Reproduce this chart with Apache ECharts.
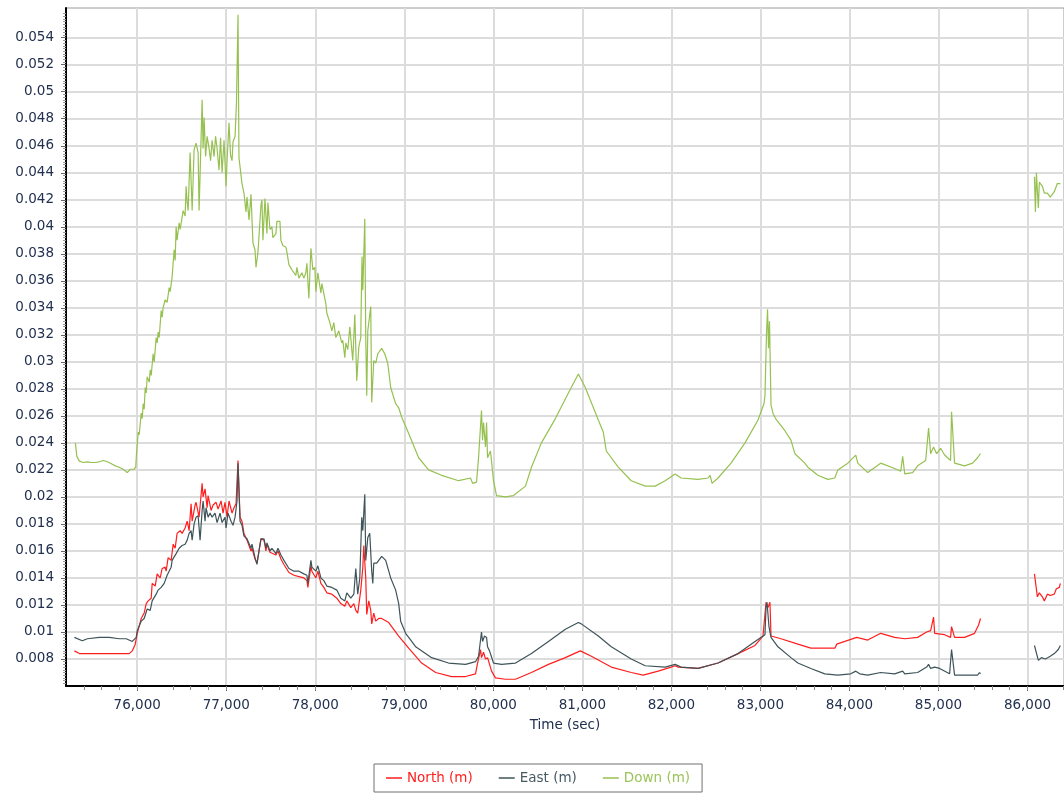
<!DOCTYPE html>
<html>
<head>
<meta charset="utf-8">
<script src="https://cdn.jsdelivr.net/npm/echarts@6/dist/echarts.min.js"></script>
<style>
  html, body { margin: 0; padding: 0; background: #fff; }
  #chart { width: 1064px; height: 794px; }
</style>
</head>
<body>
<div id="chart"></div>
<script>
// tick labels
const xTicks = [76000, 77000, 78000, 79000, 80000, 81000, 82000, 83000, 84000, 85000, 86000];
const yTicks = [0.008, 0.01, 0.012, 0.014, 0.016, 0.018, 0.02, 0.022, 0.024, 0.026, 0.028, 0.03,
  0.032, 0.034, 0.036, 0.038, 0.04, 0.042, 0.044, 0.046, 0.048, 0.05, 0.052, 0.054];

// Down (m)
const downTime = [75305, 75322, 75350, 75395, 75440, 75485, 75529, 75574, 75619, 75664, 75709, 75753,
  75798, 75843, 75888, 75922, 75966, 75983, 75992, 76011, 76022, 76045, 76056, 76067, 76078, 76090,
  76101, 76112, 76135, 76146, 76157, 76179, 76191, 76213, 76224, 76235, 76247, 76269, 76280, 76291,
  76314, 76336, 76359, 76370, 76392, 76415, 76426, 76437, 76448, 76471, 76482, 76504, 76516, 76538,
  76549, 76561, 76572, 76594, 76617, 76639, 76661, 76684, 76695, 76729, 76740, 76751, 76768, 76785,
  76807, 76824, 76841, 76863, 76880, 76897, 76919, 76936, 76953, 76975, 76998, 77009, 77031, 77048,
  77065, 77076, 77099, 77115, 77132, 77143, 77177, 77199, 77222, 77233, 77256, 77278, 77289, 77300,
  77323, 77334, 77356, 77390, 77401, 77412, 77435, 77457, 77468, 77491, 77513, 77524, 77558, 77569,
  77603, 77614, 77637, 77670, 77682, 77704, 77738, 77760, 77782, 77794, 77816, 77850, 77872, 77894,
  77906, 77928, 77951, 77973, 77995, 78007, 78029, 78063, 78074, 78119, 78130, 78164, 78186, 78208,
  78231, 78264, 78298, 78309, 78332, 78343, 78365, 78388, 78410, 78421, 78444, 78466, 78489, 78511,
  78518, 78525, 78534, 78556, 78567, 78578, 78590, 78623, 78634, 78657, 78679, 78702, 78746, 78780,
  78814, 78847, 78903, 78937, 78971, 79049, 79161, 79273, 79419, 79610, 79744, 79767, 79811, 79834,
  79867, 79879, 79890, 79912, 79924, 79935, 79968, 80002, 80036, 80136, 80226, 80361, 80428, 80540,
  80697, 80843, 80955, 81033, 81179, 81235, 81269, 81403, 81549, 81706, 81818, 81930, 82042, 82109,
  82300, 82412, 82435, 82457, 82524, 82670, 82827, 82973, 83040, 83051, 83068, 83080, 83091, 83102,
  83113, 83119, 83141, 83170, 83275, 83343, 83387, 83499, 83533, 83645, 83757, 83836, 83869, 83982,
  84071, 84094, 84116, 84206, 84351, 84508, 84576, 84598, 84621, 84710, 84766, 84856, 84889, 84912,
  84945, 84979, 85024, 85069, 85136, 85147, 85181, 85293, 85383, 85439, 85472,
  85800,
  86078, 86089, 86100, 86122, 86133, 86167, 86189, 86223, 86256, 86301, 86335, 86369];
const downVals = [0.0240, 0.0230, 0.02265, 0.02255, 0.0226, 0.02255, 0.02255, 0.0226, 0.0227, 0.0226, 0.02245, 0.0223,
  0.0222, 0.02205, 0.0218, 0.02205, 0.02205, 0.0222, 0.0232, 0.0248, 0.0246, 0.0262, 0.0258, 0.0269, 0.0265, 0.0281,
  0.0277, 0.0289, 0.0285, 0.0294, 0.0290, 0.0306, 0.0300, 0.0318, 0.0314, 0.0322, 0.0318, 0.0338, 0.0333, 0.0340,
  0.0346, 0.0344, 0.0355, 0.0352, 0.0363, 0.0383, 0.0375, 0.0400, 0.0390, 0.0403, 0.0398, 0.0407, 0.0412, 0.0408,
  0.0430, 0.0418, 0.0412, 0.0455, 0.0412, 0.0457, 0.0462, 0.0455, 0.0412, 0.0494, 0.0458, 0.0481, 0.0452, 0.0467,
  0.0458, 0.0449, 0.0464, 0.0452, 0.0467, 0.0458, 0.0442, 0.0466, 0.0440, 0.0464, 0.0430, 0.0449, 0.0477, 0.0453,
  0.0449, 0.0463, 0.0467, 0.0492, 0.0557, 0.0451, 0.0432, 0.0425, 0.0411, 0.0422, 0.0405, 0.0424, 0.0425, 0.0388,
  0.0383, 0.0370, 0.0381, 0.0416, 0.0420, 0.0390, 0.0421, 0.0395, 0.0418, 0.0398, 0.0400, 0.0392, 0.0395, 0.0404,
  0.0404, 0.0390, 0.0386, 0.0385, 0.0381, 0.0372, 0.0368, 0.0369, 0.0364, 0.0370, 0.0362, 0.0366, 0.0362, 0.0366,
  0.0373, 0.0347, 0.0384, 0.0368, 0.0370, 0.0352, 0.0366, 0.0351, 0.0358, 0.0343, 0.0336, 0.0329, 0.0323, 0.0329,
  0.0318, 0.0323, 0.0314, 0.0316, 0.0303, 0.0314, 0.0309, 0.0326, 0.0309, 0.0301, 0.0335, 0.0286, 0.0311, 0.0318,
  0.0351, 0.0378, 0.0353, 0.0406, 0.0318, 0.0275, 0.0323, 0.0341, 0.0270, 0.0301, 0.0299, 0.0306, 0.0310, 0.0306,
  0.0299, 0.0281, 0.0269, 0.0266, 0.0259, 0.0247, 0.0229, 0.0220, 0.0216, 0.0212, 0.0214, 0.0210, 0.0211, 0.0229,
  0.0264, 0.0242, 0.0255, 0.0237, 0.0255, 0.0229, 0.0234, 0.0212, 0.0201, 0.0200, 0.0201, 0.0208, 0.0222, 0.0240,
  0.0258, 0.0277, 0.0291, 0.0281, 0.0257, 0.0248, 0.0234, 0.0222, 0.0212, 0.0208, 0.0208, 0.0212, 0.0217, 0.0214,
  0.0213, 0.0214, 0.0216, 0.0210, 0.0214, 0.0225, 0.0240, 0.0257, 0.0269, 0.0275, 0.0320, 0.0339, 0.0310, 0.0330,
  0.0290, 0.0268, 0.0262, 0.0258, 0.0249, 0.0242, 0.0232, 0.0225, 0.0222, 0.0216, 0.0213, 0.0214, 0.0220, 0.0225,
  0.0231, 0.0225, 0.0226, 0.0218, 0.0225, 0.0221, 0.0219, 0.0230, 0.0217, 0.0218, 0.0223, 0.0227, 0.0251, 0.0232,
  0.0237, 0.0232, 0.0236, 0.0231, 0.0227, 0.0263, 0.0225, 0.0223, 0.0225, 0.0229, 0.0232,
  null,
  0.0437, 0.0411, 0.0440, 0.0414, 0.0433, 0.0430, 0.0425, 0.0425, 0.0422, 0.0426, 0.0432, 0.0432];

// North (m)
const northTime = [75294, 75305, 75350, 75440, 75574, 75709, 75843, 75910, 75944, 75978, 76000, 76045,
  76078, 76101, 76123, 76157, 76168, 76202, 76224, 76258, 76280, 76314, 76325, 76347, 76381, 76404,
  76426, 76448, 76482, 76504, 76538, 76561, 76583, 76605, 76617, 76650, 76661, 76695, 76729, 76740,
  76762, 76785, 76796, 76830, 76852, 76886, 76908, 76942, 76964, 76986, 77009, 77031, 77065, 77087,
  77110, 77121, 77132, 77155, 77177, 77199, 77233, 77278, 77289, 77323, 77345, 77368, 77390, 77424,
  77446, 77457, 77491, 77513, 77558, 77581, 77614, 77648, 77704, 77760, 77816, 77872, 77906, 77917,
  77951, 77962, 78007, 78029, 78063, 78096, 78130, 78186, 78242, 78287, 78332, 78354, 78399, 78433,
  78455, 78477, 78511, 78534, 78545, 78567, 78578, 78601, 78623, 78634, 78657, 78679, 78713, 78746,
  78825, 78937, 79049, 79195, 79352, 79531, 79688, 79800, 79823, 79856, 79867, 79890, 79912, 79935,
  79980, 80024, 80136, 80249, 80428, 80619, 80809, 80977, 81101, 81325, 81549, 81683, 81852, 81997,
  82042, 82076, 82300, 82524, 82749, 82939, 83029, 83063, 83085, 83107, 83119, 83231, 83421, 83567,
  83836, 83858, 83948, 84082, 84206, 84351, 84508, 84621, 84766, 84867, 84889, 84912, 84945, 84957,
  85069, 85136, 85147, 85181, 85293, 85405, 85450, 85472,
  85800,
  86078, 86111, 86133, 86167, 86189, 86223, 86256, 86301, 86324, 86358, 86369];
const northVals = [0.0086, 0.0085, 0.0084, 0.0084, 0.0084, 0.0084, 0.0084, 0.0084, 0.0086, 0.0091, 0.0099, 0.0110,
  0.0114, 0.0121, 0.0123, 0.0125, 0.0136, 0.0134, 0.0143, 0.0140, 0.0147, 0.0148, 0.0145, 0.0155, 0.0153, 0.0165,
  0.0162, 0.0173, 0.0175, 0.0173, 0.0177, 0.0182, 0.0175, 0.0195, 0.0182, 0.0194, 0.0196, 0.0185, 0.0210, 0.0200,
  0.0206, 0.0192, 0.0201, 0.0190, 0.0194, 0.0196, 0.0191, 0.0197, 0.0188, 0.0196, 0.0185, 0.0197, 0.0188, 0.0192,
  0.0195, 0.0211, 0.0227, 0.0185, 0.0182, 0.0173, 0.0168, 0.0160, 0.0162, 0.0154, 0.0151, 0.0160, 0.0169, 0.0168,
  0.0160, 0.0165, 0.0159, 0.0160, 0.0157, 0.0160, 0.0154, 0.0150, 0.0144, 0.0142, 0.0141, 0.0140, 0.0138, 0.0133,
  0.0149, 0.0145, 0.0140, 0.0145, 0.0136, 0.0133, 0.0129, 0.0128, 0.0125, 0.0121, 0.0119, 0.0123, 0.0118, 0.0121,
  0.0116, 0.0114, 0.0131, 0.0148, 0.0164, 0.0140, 0.0113, 0.0123, 0.0116, 0.0106, 0.0114, 0.0108, 0.0110, 0.0110,
  0.0107, 0.0097, 0.0088, 0.0077, 0.0070, 0.0067, 0.0067, 0.0069, 0.0077, 0.0087, 0.0081, 0.0085, 0.0080, 0.0081,
  0.0071, 0.0066, 0.0065, 0.0065, 0.0070, 0.0076, 0.0081, 0.0086, 0.0082, 0.0074, 0.0070, 0.0068, 0.0071, 0.0074,
  0.0075, 0.0074, 0.0073, 0.0077, 0.0084, 0.0090, 0.0097, 0.0122, 0.0118, 0.0122, 0.0097, 0.0095, 0.0091, 0.0088,
  0.0088, 0.0091, 0.0093, 0.0096, 0.0094, 0.0099, 0.0096, 0.0095, 0.0096, 0.0100, 0.0099, 0.0101, 0.0111, 0.0099,
  0.0098, 0.0096, 0.0104, 0.0096, 0.0096, 0.0099, 0.0105, 0.0110,
  null,
  0.0143, 0.0126, 0.0129, 0.0126, 0.0123, 0.0128, 0.0127, 0.0128, 0.0132, 0.0133, 0.0136];

// East (m)
const eastTime = [75294, 75383, 75440, 75574, 75686, 75798, 75877, 75944, 75989, 76000, 76045, 76078,
  76112, 76146, 76168, 76213, 76235, 76269, 76303, 76336, 76381, 76392, 76437, 76471, 76504, 76538,
  76561, 76583, 76605, 76617, 76639, 76661, 76684, 76706, 76729, 76740, 76762, 76773, 76796, 76818,
  76841, 76874, 76897, 76930, 76953, 76986, 76998, 77020, 77054, 77076, 77099, 77121, 77132, 77155,
  77177, 77199, 77233, 77278, 77289, 77323, 77345, 77368, 77390, 77424, 77446, 77457, 77491, 77513,
  77558, 77581, 77614, 77648, 77704, 77760, 77816, 77872, 77906, 77917, 77951, 77962, 78007, 78029,
  78063, 78096, 78130, 78186, 78242, 78287, 78332, 78354, 78399, 78433, 78455, 78477, 78500, 78522,
  78534, 78556, 78567, 78590, 78612, 78634, 78646, 78657, 78690, 78746, 78791, 78847, 78903, 78937,
  78959, 79015, 79083, 79128, 79307, 79497, 79688, 79800, 79834, 79867, 79879, 79901, 79924, 79935,
  79957, 80002, 80092, 80249, 80428, 80619, 80809, 80955, 80988, 81179, 81325, 81549, 81706, 81930,
  82042, 82109, 82300, 82524, 82749, 82939, 83051, 83063, 83074, 83096, 83119, 83197, 83343, 83421,
  83567, 83723, 83869, 84015, 84071, 84116, 84206, 84351, 84508, 84598, 84621, 84766, 84867, 84889,
  84912, 84957, 85013, 85125, 85147, 85181, 85293, 85439, 85461, 85472,
  85800,
  86078, 86122, 86156, 86200, 86256, 86301, 86346, 86369];
const eastVals = [0.0096, 0.00935, 0.0095, 0.0096, 0.0096, 0.0095, 0.0095, 0.0093, 0.0096, 0.0101, 0.0108, 0.0110,
  0.0117, 0.0116, 0.0123, 0.0128, 0.0131, 0.0133, 0.0136, 0.0142, 0.0148, 0.0153, 0.0158, 0.0162, 0.0164, 0.0165,
  0.0168, 0.0173, 0.0175, 0.0168, 0.0180, 0.0185, 0.0186, 0.0168, 0.0190, 0.0197, 0.0182, 0.0192, 0.0185, 0.0188,
  0.0185, 0.0188, 0.0181, 0.0188, 0.0181, 0.0185, 0.0177, 0.0188, 0.0182, 0.0179, 0.0185, 0.0197, 0.0225, 0.0182,
  0.0179, 0.0171, 0.0169, 0.0162, 0.0165, 0.0155, 0.0150, 0.0160, 0.0169, 0.0169, 0.0162, 0.0166, 0.0160, 0.0162,
  0.0158, 0.0162, 0.0157, 0.0153, 0.0147, 0.0145, 0.0145, 0.0143, 0.0142, 0.0136, 0.0153, 0.0148, 0.0145, 0.0149,
  0.0140, 0.0138, 0.0134, 0.0133, 0.0131, 0.0125, 0.0123, 0.0129, 0.0125, 0.0128, 0.0147, 0.0128, 0.0140, 0.0185,
  0.0175, 0.0202, 0.0153, 0.0170, 0.0173, 0.0145, 0.0136, 0.0151, 0.0151, 0.0156, 0.0153, 0.0140, 0.0131, 0.0121,
  0.0108, 0.0099, 0.0093, 0.0089, 0.0081, 0.0077, 0.0076, 0.0078, 0.0082, 0.0100, 0.0093, 0.0097, 0.0096, 0.0089,
  0.0086, 0.0077, 0.0076, 0.0077, 0.0084, 0.0093, 0.0102, 0.0107, 0.0106, 0.0097, 0.0089, 0.0080, 0.0075, 0.0074,
  0.0076, 0.0074, 0.0073, 0.0077, 0.0084, 0.0093, 0.0098, 0.0118, 0.0122, 0.0104, 0.0096, 0.0089, 0.0081, 0.0077,
  0.0073, 0.0069, 0.0068, 0.0069, 0.0071, 0.0069, 0.0068, 0.0070, 0.0069, 0.0071, 0.0069, 0.0070, 0.0074, 0.0076,
  0.0073, 0.0074, 0.0073, 0.0069, 0.0087, 0.0068, 0.0068, 0.0068, 0.0070, 0.0069,
  null,
  0.0090, 0.0079, 0.0081, 0.0080, 0.0082, 0.0084, 0.0087, 0.0090];

const FONT = 'DejaVu Sans';
const LABEL_COLOR = '#22304f';

function pairs(times, vals) {
  return times.map((t, i) => [t, vals[i]]);
}

const chart = echarts.init(document.getElementById('chart'), null, { renderer: 'canvas' });

chart.setOption({
  animation: false,
  backgroundColor: '#fff',
  textStyle: { fontFamily: FONT },
  grid: {
    left: 66, right: -2, top: 8, bottom: 108,
    show: true, borderColor: '#9a9a9a', borderWidth: 1
  },
  legend: {
    left: 374, top: 764,
    padding: [7, 12, 7, 12],
    itemGap: 26,
    itemWidth: 16, itemHeight: 1.5,
    icon: 'rect',
    borderColor: '#707070', borderWidth: 1,
    textStyle: { fontFamily: FONT, fontSize: 13.5 },
    data: [
      { name: 'North (m)', textStyle: { color: '#ff1e1e' } },
      { name: 'East (m)', textStyle: { color: '#475a63' } },
      { name: 'Down (m)', textStyle: { color: '#9cc45a' } }
    ]
  },
  xAxis: {
    type: 'value',
    min: 75200, max: 86410, interval: 1000,
    name: 'Time (sec)', nameLocation: 'middle', nameGap: 32,
    nameTextStyle: { fontFamily: FONT, fontSize: 13.5, color: LABEL_COLOR },
    axisLine: { lineStyle: { color: '#000', width: 2 } },
    axisTick: { customValues: xTicks, length: 5, lineStyle: { color: '#666' } },
    minorTick: { show: true, splitNumber: 5, length: 4, lineStyle: { color: '#888' } },
    axisLabel: {
      customValues: xTicks, margin: 12,
      fontFamily: FONT, fontSize: 13.5, color: LABEL_COLOR,
      formatter: v => v.toLocaleString('en-US')
    },
    splitLine: { show: true, lineStyle: { color: '#dcdcdc', width: 2 } }
  },
  yAxis: {
    type: 'value',
    min: 0.006, max: 0.0562, interval: 0.002,
    axisLine: { show: true, lineStyle: { color: '#000', width: 2 } },
    axisTick: { show: true, customValues: yTicks, length: 5, lineStyle: { color: '#666' } },
    minorTick: { show: true, splitNumber: 10, length: 3, lineStyle: { color: '#999' } },
    axisLabel: {
      customValues: yTicks, margin: 12,
      fontFamily: FONT, fontSize: 13.5, color: LABEL_COLOR
    },
    splitLine: { show: true, lineStyle: { color: '#dcdcdc', width: 2 } }
  },
  series: [
    {
      name: 'North (m)', type: 'line', color: '#ff1e1e',
      showSymbol: false, symbol: 'none',
      lineStyle: { width: 1.2 },
      data: pairs(northTime, northVals)
    },
    {
      name: 'East (m)', type: 'line', color: '#3e5459',
      showSymbol: false, symbol: 'none',
      lineStyle: { width: 1.2 },
      data: pairs(eastTime, eastVals)
    },
    {
      name: 'Down (m)', type: 'line', color: '#96c150',
      showSymbol: false, symbol: 'none',
      lineStyle: { width: 1.2 },
      data: pairs(downTime, downVals)
    }
  ]
});
</script>
</body>
</html>
